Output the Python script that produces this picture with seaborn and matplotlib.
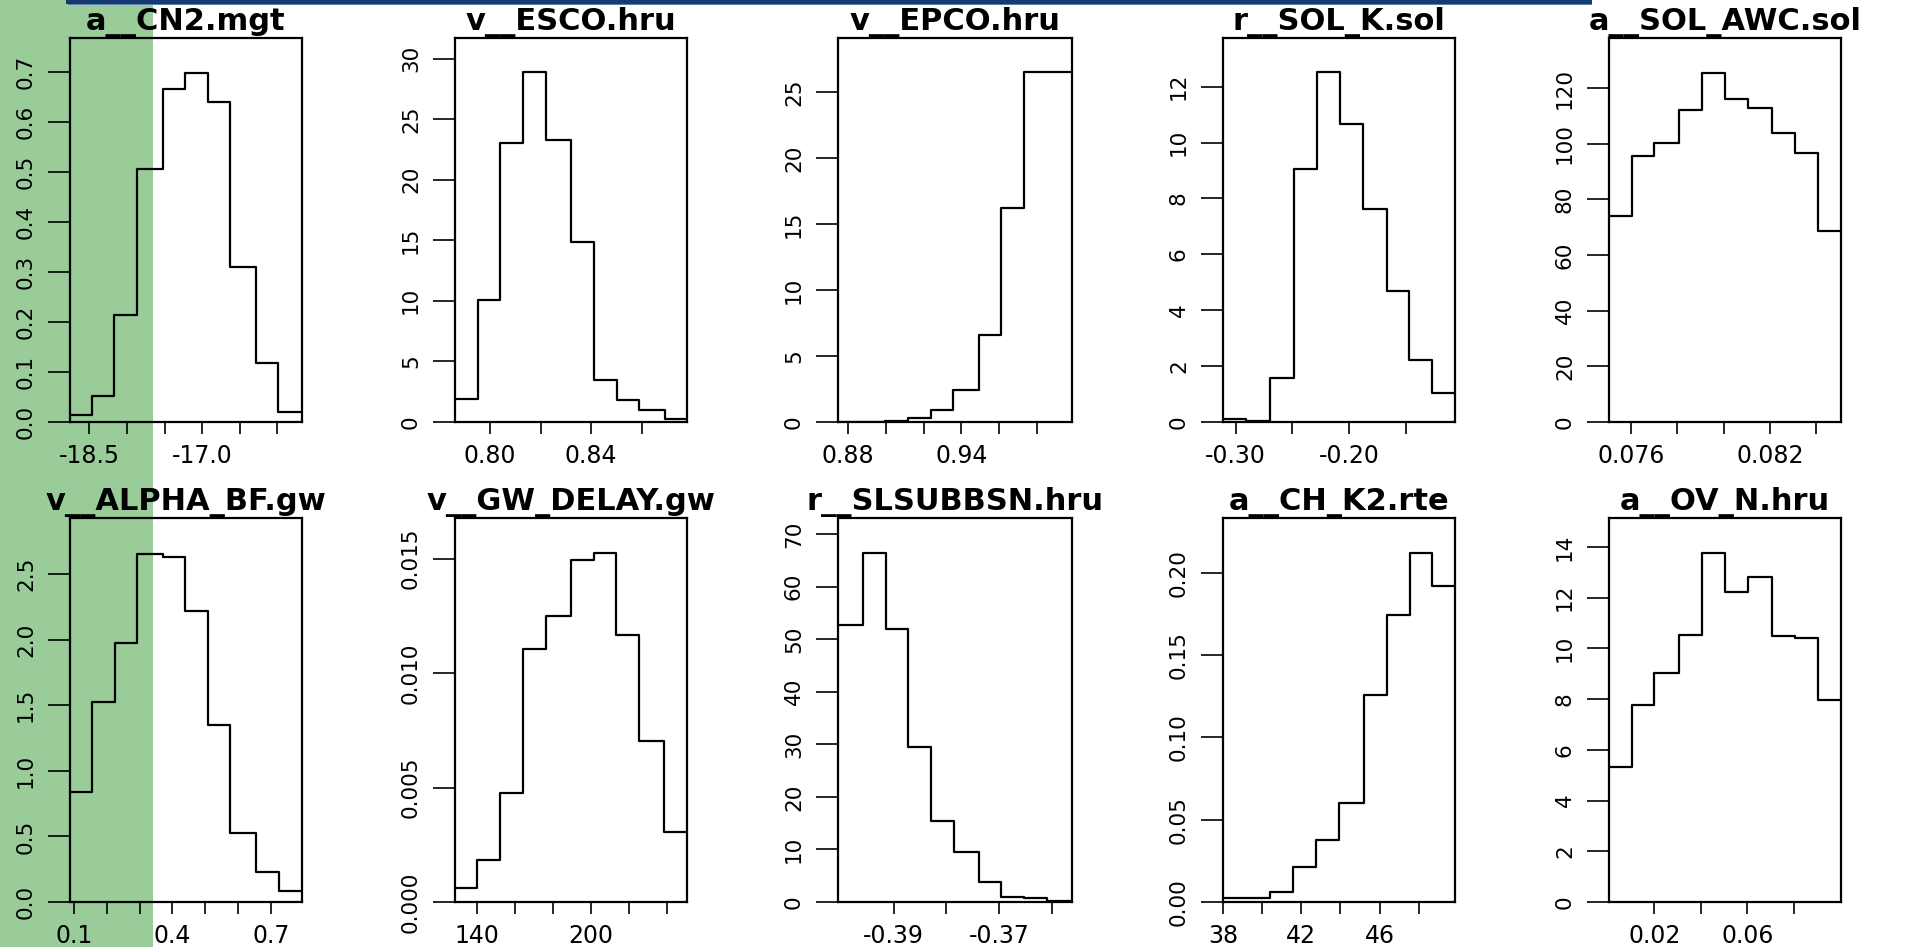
import numpy as np
import pandas as pd
import matplotlib
matplotlib.use("Agg")
import matplotlib.pyplot as plt
from matplotlib.patches import Rectangle, FancyBboxPatch
import seaborn as sns

sns.set_theme(style="white")
plt.rcParams['font.family'] = ['DejaVu Sans']
plt.rcParams['text.color'] = 'black'

# ---------------- data ----------------
titles = ["a__CN2.mgt", "v__ESCO.hru", "v__EPCO.hru", "r__SOL_K.sol", "a__SOL_AWC.sol",
          "v__ALPHA_BF.gw", "v__GW_DELAY.gw", "r__SLSUBBSN.hru", "a__CH_K2.rte", "a__OV_N.hru"]

cn2_edges = [-18.757, -18.469, -18.168, -17.872, -17.527, -17.230, -16.929, -16.628, -16.288, -15.991, -15.673]
cn2_dens = [0.013, 0.051, 0.213, 0.505, 0.665, 0.698, 0.639, 0.309, 0.118, 0.019]

esco_edges = [0.78614, 0.79512, 0.80396, 0.81294, 0.82218, 0.83208, 0.84106, 0.85003, 0.85901, 0.86904, 0.87789]
esco_dens = [1.90, 10.1, 23.0, 28.9, 23.3, 14.9, 3.47, 1.82, 0.96, 0.25]

epco_edges = [0.87453, 0.88688, 0.89924, 0.91160, 0.92395, 0.93578, 0.94937, 0.96120, 0.97338, 0.98609, 0.99879]
epco_dens = [0.03, 0.03, 0.05, 0.30, 0.88, 2.43, 6.62, 16.25, 26.5, 26.5]

solk_edges = [-0.31118, -0.29059, -0.26941, -0.24882, -0.22853, -0.20824, -0.18735, -0.16647, -0.14676, -0.12647, -0.10647]
solk_dens = [0.107, 0.048, 1.574, 9.06, 12.51, 10.65, 7.62, 4.67, 2.21, 1.04]

awc_edges = [0.07505, 0.07603, 0.07701, 0.07806, 0.07906, 0.08006, 0.08104, 0.08210, 0.08309, 0.08407, 0.08506]
awc_dens = [73.9, 95.7, 100.1, 112.1, 125.6, 116.0, 112.8, 103.7, 96.5, 68.5]

alpha_edges = [0.0878, 0.1539, 0.2241, 0.2913, 0.3726, 0.4388, 0.5079, 0.5761, 0.6554, 0.7236, 0.7948]
alpha_dens = [0.836, 1.527, 1.977, 2.655, 2.63, 2.218, 1.352, 0.526, 0.229, 0.081]

gwd_edges = [128.21, 140.0, 151.96, 163.92, 176.06, 189.25, 201.21, 213.17, 225.14, 238.50, 250.47]
gwd_dens = [0.000626, 0.00183, 0.00477, 0.01106, 0.01248, 0.01495, 0.01525, 0.01164, 0.00703, 0.00305]

slsub_edges = [-0.40050, -0.39579, -0.39138, -0.38717, -0.38289, -0.37855, -0.37384, -0.36962, -0.36528, -0.36094, -0.35623]
slsub_dens = [52.6, 66.4, 51.9, 29.5, 15.4, 9.56, 3.80, 1.01, 0.70, 0.19]

chk2_edges = [38.0, 39.19, 40.38, 41.57, 42.73, 43.92, 45.18, 46.37, 47.53, 48.69, 49.85]
chk2_dens = [0.0026, 0.0026, 0.0063, 0.0215, 0.0377, 0.0599, 0.1261, 0.1745, 0.2121, 0.1923]

ovn_edges = [0.00050, 0.01025, 0.02, 0.03075, 0.04050, 0.05039, 0.06014, 0.07075, 0.08065, 0.09039, 0.10029]
ovn_dens = [5.33, 7.75, 9.03, 10.53, 13.76, 12.21, 12.80, 10.48, 10.41, 7.96]

all_edges = [cn2_edges, esco_edges, epco_edges, solk_edges, awc_edges,
             alpha_edges, gwd_edges, slsub_edges, chk2_edges, ovn_edges]
all_dens = [cn2_dens, esco_dens, epco_dens, solk_dens, awc_dens,
            alpha_dens, gwd_dens, slsub_dens, chk2_dens, ovn_dens]

y_max = [0.767, 31.7, 29.1, 13.74, 138.0, 2.927, 0.01677, 73.04, 0.2334, 15.14]

x_ticks = [[-18.5, -18.0, -17.5, -17.0, -16.5, -16.0],
           [0.80, 0.82, 0.84, 0.86],
           [0.88, 0.90, 0.92, 0.94, 0.96, 0.98],
           [-0.30, -0.25, -0.20, -0.15],
           [0.076, 0.078, 0.080, 0.082, 0.084],
           [0.1, 0.2, 0.3, 0.4, 0.5, 0.6, 0.7],
           [140, 160, 180, 200, 220, 240],
           [-0.39, -0.38, -0.37, -0.36],
           [38, 40, 42, 44, 46, 48],
           [0.02, 0.04, 0.06, 0.08]]
x_labels = [["-18.5", "", "", "-17.0", "", ""],
            ["0.80", "", "0.84", ""],
            ["0.88", "", "", "0.94", "", ""],
            ["-0.30", "", "-0.20", ""],
            ["0.076", "", "", "0.082", ""],
            ["0.1", "", "", "0.4", "", "", "0.7"],
            ["140", "", "", "200", "", ""],
            ["-0.39", "", "-0.37", ""],
            ["38", "", "42", "", "46", ""],
            ["0.02", "", "0.06", ""]]

y_ticks = [[0.0, 0.1, 0.2, 0.3, 0.4, 0.5, 0.6, 0.7],
           [0, 5, 10, 15, 20, 25, 30],
           [0, 5, 10, 15, 20, 25],
           [0, 2, 4, 6, 8, 10, 12],
           [0, 20, 40, 60, 80, 100, 120],
           [0.0, 0.5, 1.0, 1.5, 2.0, 2.5],
           [0.000, 0.005, 0.010, 0.015],
           [0, 10, 20, 30, 40, 50, 60, 70],
           [0.00, 0.05, 0.10, 0.15, 0.20],
           [0, 2, 4, 6, 8, 10, 12, 14]]
y_labels = [["0.0", "0.1", "0.2", "0.3", "0.4", "0.5", "0.6", "0.7"],
            ["0", "5", "10", "15", "20", "25", "30"],
            ["0", "5", "10", "15", "20", "25"],
            ["0", "2", "4", "6", "8", "10", "12"],
            ["0", "20", "40", "60", "80", "100", "120"],
            ["0.0", "0.5", "1.0", "1.5", "2.0", "2.5"],
            ["0.000", "0.005", "0.010", "0.015"],
            ["0", "10", "20", "30", "40", "50", "60", "70"],
            ["0.00", "0.05", "0.10", "0.15", "0.20"],
            ["0", "2", "4", "6", "8", "10", "12", "14"]]

# ---------------- layout (pixels) ----------------
W, H = 1919, 947
col_left = [70, 455, 838, 1223, 1609]
col_width = [232, 232, 234, 232, 232]
row_top = [38, 518]
row_bottom = [422, 902]

fig = plt.figure(figsize=(W / 100, H / 100), dpi=100)
fig.patch.set_facecolor("white")

# green highlight strip and top band
fig.patches.append(Rectangle((0, 0), 153 / W, 1, transform=fig.transFigure,
                             facecolor="#99cc99", edgecolor="none", zorder=-5))
fig.patches.append(Rectangle((68 / W, 1 - 5 / H), (1592 - 68) / W, 5 / H, transform=fig.transFigure,
                             facecolor="#5b7fb0", edgecolor="none", zorder=-5))
fig.patches.append(Rectangle((66 / W, 1 - 4 / H), (1592 - 66) / W, 4 / H, transform=fig.transFigure,
                             facecolor="#163b6f", edgecolor="none", zorder=-4))

for i in range(10):
    r, c = divmod(i, 5)
    left = col_left[c] / W
    bottom = 1 - row_bottom[r] / H
    height = (row_bottom[r] - row_top[r]) / H
    ax = fig.add_axes([left, bottom, col_width[c] / W, height])
    ax.set_facecolor("none")
    e = [float(v) for v in all_edges[i]]
    centers = [(a + b) / 2 for a, b in zip(e[:-1], e[1:])]
    df = pd.DataFrame({"value": centers, "density": all_dens[i]})
    sns.histplot(data=df, x="value", weights="density", bins=e, element="step", fill=False,
                 color="black", linewidth=1.6, ax=ax)
    ax.set_xlim(e[0], e[-1])
    ax.set_ylim(0, y_max[i])
    ax.set_xlabel("")
    ax.set_ylabel("")
    ax.set_title(titles[i], fontsize=22, fontweight="bold", pad=6, color="black")
    ax.set_xticks(x_ticks[i])
    ax.set_xticklabels(x_labels[i], fontsize=17)
    ax.set_yticks(y_ticks[i])
    ax.set_yticklabels(y_labels[i], fontsize=15.5, rotation=90, va="center")
    ax.tick_params(axis="x", direction="out", length=8.6, width=1.2, pad=7, color="black",
                   bottom=True, labelcolor="black")
    ax.tick_params(axis="y", direction="out", length=15.5, width=1.2, pad=9, color="black",
                   left=True, labelcolor="black")
    for s in ax.spines.values():
        s.set_visible(True)
        s.set_color("black")
        s.set_linewidth(1.6)
    ax.grid(False)

fig.savefig("out.png", dpi=100, facecolor="white")
